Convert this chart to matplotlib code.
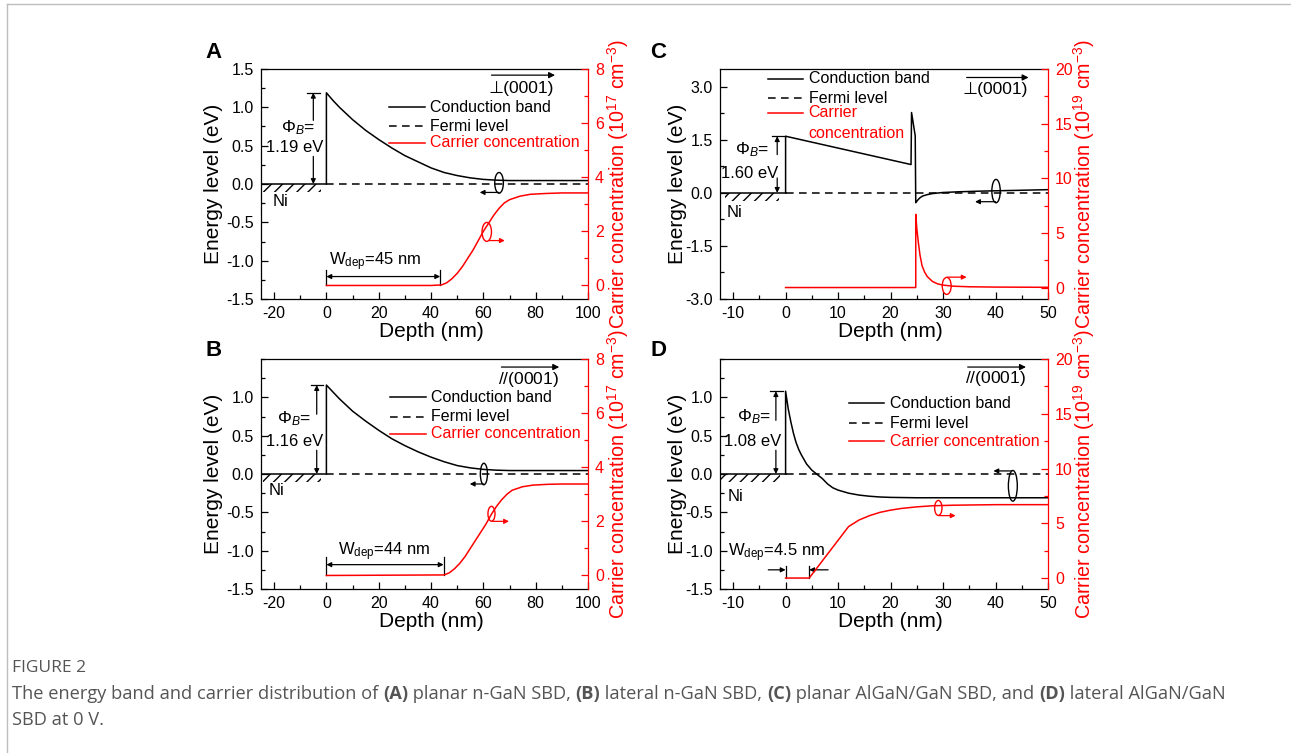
import matplotlib
matplotlib.use('Agg')
import matplotlib.pyplot as plt
from matplotlib.patches import Ellipse, Rectangle
from matplotlib.ticker import MultipleLocator, FixedLocator
from matplotlib.lines import Line2D

plt.rcParams['font.family'] = ['Liberation Sans', 'DejaVu Sans']
plt.rcParams['mathtext.fontset'] = 'custom'
plt.rcParams['mathtext.rm'] = 'Liberation Sans'
plt.rcParams['mathtext.it'] = 'Liberation Sans:italic'
plt.rcParams['mathtext.bf'] = 'Liberation Sans:bold'
plt.rcParams['axes.linewidth'] = 0.9
plt.rcParams['axes.unicode_minus'] = False

# ---------------- data ----------------
# Panel A: planar n-GaN SBD
A_cb_x = [0, 0, 2.5, 5, 7.5, 10, 15, 20, 25, 30, 35, 40, 45, 50, 55, 60, 65, 70, 80, 90, 100]
A_cb_y = [0, 1.19, 1.09, 1.00, 0.92, 0.84, 0.70, 0.58, 0.47, 0.37, 0.29, 0.21, 0.15, 0.11, 0.08, 0.06, 0.05, 0.045, 0.045, 0.045, 0.045]
A_cc_x = [0, 40, 44, 46, 48, 50, 52, 54, 56, 58, 60, 62, 64, 66, 68, 70, 74, 78, 84, 90, 100]
A_cc_y = [0, 0, 0.02, 0.1, 0.25, 0.45, 0.7, 1.0, 1.3, 1.65, 2.0, 2.3, 2.6, 2.85, 3.05, 3.17, 3.3, 3.37, 3.4, 3.42, 3.42]
# Panel B: lateral n-GaN SBD
B_cb_x = [0, 0, 2.5, 5, 7.5, 10, 15, 20, 25, 30, 35, 40, 45, 50, 55, 60, 65, 70, 80, 100]
B_cb_y = [0, 1.16, 1.07, 0.98, 0.90, 0.82, 0.69, 0.57, 0.46, 0.37, 0.29, 0.22, 0.16, 0.11, 0.08, 0.06, 0.05, 0.045, 0.045, 0.045]
B_cc_x = [0, 45, 47, 49, 51, 53, 55, 57, 59, 61, 63, 65, 67, 69, 71, 75, 79, 85, 90, 100]
B_cc_y = [0, 0.02, 0.1, 0.25, 0.45, 0.7, 1.0, 1.3, 1.6, 1.9, 2.25, 2.55, 2.8, 3.0, 3.15, 3.28, 3.34, 3.37, 3.38, 3.38]
# Panel C: planar AlGaN/GaN SBD
C_cb_x = [0, 0, 23.9, 24.0, 24.7, 24.8, 25.2, 25.6, 26.1, 27, 28, 30, 33, 37.5, 44, 50]
C_cb_y = [0, 1.60, 0.80, 2.27, 1.61, -0.28, -0.20, -0.14, -0.09, -0.05, -0.02, 0.01, 0.03, 0.05, 0.07, 0.09]
C_cc_x = [0, 24.8, 24.8, 25.0, 25.3, 25.6, 26.0, 26.5, 27, 28, 29, 30, 32, 35, 40, 50]
C_cc_y = [0, 0, 6.7, 5.4, 4.1, 3.0, 2.0, 1.4, 1.0, 0.55, 0.33, 0.22, 0.12, 0.07, 0.04, 0.02]
# Panel D: lateral AlGaN/GaN SBD
D_cb_x = [0, 0, 0.5, 1.0, 1.5, 2.0, 2.5, 3, 4, 5, 6, 7, 8, 9, 10, 12, 14, 16, 18, 20, 25, 30, 40, 50]
D_cb_y = [0, 1.08, 0.85, 0.68, 0.53, 0.41, 0.32, 0.25, 0.13, 0.05, -0.005, -0.06, -0.13, -0.18, -0.21, -0.25, -0.275, -0.29, -0.30, -0.305, -0.31, -0.31, -0.31, -0.31]
D_cc_x = [0, 4.5, 12, 14, 16, 18, 20, 22, 25, 28, 32, 40, 50]
D_cc_y = [0, 0, 4.7, 5.3, 5.7, 6.0, 6.2, 6.35, 6.5, 6.6, 6.65, 6.7, 6.7]

barrier = {'A': '1.19 eV', 'B': '1.16 eV', 'C': '1.60 eV', 'D': '1.08 eV'}
barrier_val = {'A': 1.19, 'B': 1.16, 'C': 1.60, 'D': 1.08}
direction = {'A': '\u22a5(0001)', 'B': r'$\mathit{//}$(0001)', 'C': '\u22a5(0001)', 'D': r'$\mathit{//}$(0001)'}
wdep_text = {'A': r'W$_{\rm dep}$=45 nm', 'B': r'W$_{\rm dep}$=44 nm', 'D': r'W$_{\rm dep}$=4.5 nm'}
cc_unit = {'A': r'Carrier concentration (10$^{17}$ cm$^{-3}$)', 'B': r'Carrier concentration (10$^{17}$ cm$^{-3}$)',
           'C': r'Carrier concentration (10$^{19}$ cm$^{-3}$)', 'D': r'Carrier concentration (10$^{19}$ cm$^{-3}$)'}
legend_labels = ['Conduction band', 'Fermi level', 'Carrier concentration']

# ---------------- figure ----------------
W, H = 1291, 753
fig = plt.figure(figsize=(W / 100, H / 100), dpi=100)


def add_axes_px(l, t, r, b):
    return fig.add_axes([l / W, 1 - b / H, (r - l) / W, (b - t) / H])


RED = '#ff0000'
FS_TICK = 11.5
FS_LAB = 15
FS_RLAB = 14.2
FS_ANN = 11.5
FS_LEG = 11.5
LW = 1.1


def base(rect, xlim, xmaj, xmin_, ylim, yticks, ymin_, rlim, rmaj, rmin_, key):
    ax = add_axes_px(*rect)
    ax2 = ax.twinx()
    ax.set_xlim(*xlim)
    ax.set_ylim(*ylim)
    ax2.set_ylim(*rlim)
    ax.xaxis.set_major_locator(MultipleLocator(xmaj))
    ax.xaxis.set_minor_locator(MultipleLocator(xmin_))
    ax.yaxis.set_major_locator(FixedLocator(yticks))
    ax.yaxis.set_minor_locator(MultipleLocator(ymin_))
    ax2.yaxis.set_major_locator(MultipleLocator(rmaj))
    ax2.yaxis.set_minor_locator(MultipleLocator(rmin_))
    ax.tick_params(which='both', direction='in', top=False, right=False, labelsize=FS_TICK, width=0.9)
    ax.tick_params(which='major', length=5, pad=5)
    ax.tick_params(which='minor', length=3)
    ax2.tick_params(which='both', direction='in', colors=RED, labelsize=FS_TICK, width=0.9)
    ax2.tick_params(which='major', length=5, pad=5)
    ax2.tick_params(which='minor', length=3)
    ax.spines['right'].set_visible(False)
    ax2.spines['right'].set_color(RED)
    ax2.spines['left'].set_visible(False)
    ax2.spines['top'].set_visible(False)
    ax2.spines['bottom'].set_visible(False)
    ax.set_xlabel('Depth (nm)', fontsize=FS_LAB, va='center')
    ax.set_ylabel('Energy level (eV)', fontsize=FS_LAB, va='center')
    ax2.set_ylabel(cc_unit[key], fontsize=FS_RLAB, color=RED, va='center', rotation=90)
    return ax, ax2


def arrow(ax, x0, y0, x1, y1, color='black', style='-|>', ms=8):
    ax.annotate('', xy=(x1, y1), xytext=(x0, y0),
                arrowprops=dict(arrowstyle=style, color=color, lw=0.9, shrinkA=0, shrinkB=0,
                                mutation_scale=ms))


def common(ax, ax2, key, cb_x, cb_y, cc_x, cc_y, xlim):
    ax.plot(cb_x, cb_y, color='black', lw=LW, zorder=3)
    ax.plot([0, xlim[1]], [0, 0], color='black', lw=LW, ls=(0, (5, 3.5)), zorder=2)
    ax.plot([xlim[0], 0], [0, 0], color='black', lw=LW, zorder=2)
    ax2.plot(cc_x, cc_y, color=RED, lw=LW, zorder=3)


def ni(ax, x0, x1, hh, tx, ty):
    ax.add_patch(Rectangle((x0, -hh), x1 - x0, hh, hatch='///', fill=False, lw=0, edgecolor='black'))
    ax.text(tx, ty, 'Ni', fontsize=FS_ANN + 0.5, ha='center', va='center')


def phib(ax, key, xa, c0, c1, upb, lowt, tx1, ty1, tx2, ty2):
    top = barrier_val[key]
    ax.plot([c0, c1], [top, top], color='black', lw=0.9)
    arrow(ax, xa, upb, xa, top, ms=7)
    arrow(ax, xa, lowt, xa, 0, ms=7)
    ax.text(tx1, ty1, r'$\mathit{\Phi}_{\mathit{B}}$=', fontsize=FS_ANN + 1, ha='center', va='center')
    ax.text(tx2, ty2, barrier[key], fontsize=FS_ANN + 0.5, ha='center', va='center')


def key_entries(ax, lx0, lx1, tx, ys, labels):
    styles = [dict(color='black', ls='-'), dict(color='black', ls=(0, (5, 3.5))), dict(color=RED, ls='-')]
    for st, y, lab in zip(styles, ys, labels):
        ax.plot([lx0, lx1], [y, y], lw=LW, **st)
        ax.text(tx, y, lab, fontsize=FS_LEG, ha='left', va='center', color=st['color'])


def direction_arrow(ax, key, x0, x1, y, tx, ty):
    arrow(ax, x0, y, x1, y, ms=9)
    ax.text(tx, ty, direction[key], fontsize=FS_ANN + 1, ha='center', va='center')


def indicator(ax, cx, cy, w, h, color, ax0, ay, ax1):
    ax.add_patch(Ellipse((cx, cy), w, h, fill=False, edgecolor=color, lw=1.0))
    arrow(ax, ax0, ay, ax1, ay, color=color, ms=7)


XLAB_Y = -0.142

# ---- Panel A ----
xl = (-25, 100)
ax, ax2 = base((261, 69, 588, 299), xl, 20, 10, (-1.5, 1.5), [-1.5, -1.0, -0.5, 0.0, 0.5, 1.0, 1.5], 0.25,
               (-0.5, 8), 2, 1, 'A')
common(ax, ax2, 'A', A_cb_x, A_cb_y, A_cc_x, A_cc_y, xl)
ni(ax, -24.1, -2, 0.105, -17.7, -0.23)
phib(ax, 'A', -5, -7.4, -2.4, 0.83, 0.36, -11.0, 0.74, -12.3, 0.47)
key_entries(ax, 24.1, 37.5, 39.7, [1.0, 0.75, 0.54], legend_labels)
direction_arrow(ax, 'A', 63.1, 87.4, 1.42, 74.6, 1.25)
indicator(ax, 66, 0.015, 3.3, 0.27, 'black', 66, -0.11, 58.6)
indicator(ax2, 61.3, 1.98, 3.6, 0.70, RED, 62, 1.66, 68.2)
ax2.plot([0, 0], [0, 0.58], color='black', lw=0.9)
ax2.plot([43.5, 43.5], [0, 0.58], color='black', lw=0.9)
arrow(ax2, 0, 0.33, 43.5, 0.33, style='<|-|>', ms=7)
ax2.text(0.9, 0.89, wdep_text['A'], fontsize=FS_ANN + 0.5, ha='left', va='center')
ax.xaxis.set_label_coords(0.52, XLAB_Y)
ax.yaxis.set_label_coords(-0.144, 0.5)
ax2.yaxis.set_label_coords(1.092, 0.5)

# ---- Panel B ----
ax, ax2 = base((261, 359, 588, 589), xl, 20, 10, (-1.5, 1.5), [-1.5, -1.0, -0.5, 0.0, 0.5, 1.0], 0.25,
               (-0.5, 8), 2, 1, 'B')
common(ax, ax2, 'B', B_cb_x, B_cb_y, B_cc_x, B_cc_y, xl)
ni(ax, -24.4, -2, 0.105, -19, -0.22)
phib(ax, 'B', -3.7, -5.9, -1.4, 0.78, 0.31, -12.3, 0.72, -12.0, 0.42)
key_entries(ax, 24.5, 37.9, 40.1, [1.0, 0.745, 0.526], legend_labels)
direction_arrow(ax, 'B', 66.9, 89, 1.395, 77.2, 1.23)
indicator(ax, 60.2, 0.0, 2.7, 0.28, 'black', 60, -0.13, 54.8)
indicator(ax2, 63.1, 2.28, 2.7, 0.55, RED, 63.5, 2.0, 69.8)
ax2.plot([0, 0], [0, 0.7], color='black', lw=0.9)
ax2.plot([44.8, 44.8], [0, 0.7], color='black', lw=0.9)
arrow(ax2, 0, 0.4, 44.8, 0.4, style='<|-|>', ms=7)
ax2.text(4.3, 0.89, wdep_text['B'], fontsize=FS_ANN + 0.5, ha='left', va='center')
ax.xaxis.set_label_coords(0.52, XLAB_Y)
ax.yaxis.set_label_coords(-0.144, 0.5)
ax2.yaxis.set_label_coords(1.092, 0.5)

# ---- Panel C ----
xl = (-12.5, 50)
ax, ax2 = base((720, 69, 1048, 299), xl, 10, 5, (-3, 3.5), [-3.0, -1.5, 0.0, 1.5, 3.0], 0.75,
               (-1.05, 20), 5, 2.5, 'C')
common(ax, ax2, 'C', C_cb_x, C_cb_y, C_cc_x, C_cc_y, xl)
ni(ax, -11.6, -1.2, 0.23, -9.7, -0.55)
phib(ax, 'C', -1.6, -2.5, -0.1, 1.08, 0.42, -6.5, 1.22, -6.8, 0.54)
key_entries(ax, -3.3, 3.4, 4.4, [3.225, 2.68, 2.26], legend_labels[:2] + ['Carrier'])
ax.text(4.4, 1.69, 'concentration', fontsize=FS_LEG, ha='left', va='center', color=RED)
direction_arrow(ax, 'C', 34.5, 46.3, 3.26, 39.9, 2.91)
indicator(ax, 40.1, 0.05, 1.6, 0.66, 'black', 40, -0.25, 36.1)
indicator(ax2, 30.7, 0.15, 1.7, 1.56, RED, 30.9, 0.95, 34.5)
ax.xaxis.set_label_coords(0.52, XLAB_Y)
ax.yaxis.set_label_coords(-0.129, 0.5)
ax2.yaxis.set_label_coords(1.11, 0.5)

# ---- Panel D ----
ax, ax2 = base((720, 359, 1048, 589), xl, 10, 5, (-1.5, 1.5), [-1.5, -1.0, -0.5, 0.0, 0.5, 1.0], 0.25,
               (-1.0, 20), 5, 2.5, 'D')
common(ax, ax2, 'D', D_cb_x, D_cb_y, D_cc_x, D_cc_y, xl)
ni(ax, -12.3, -1.1, 0.105, -9.55, -0.295)
phib(ax, 'D', -1.85, -2.9, -0.45, 0.70, 0.31, -6.05, 0.745, -6.2, 0.43)
key_entries(ax, 12.1, 18.8, 19.8, [0.92, 0.66, 0.425], legend_labels)
direction_arrow(ax, 'D', 34.7, 45.8, 1.395, 40, 1.24)
indicator(ax, 43.3, -0.154, 1.7, 0.4, 'black', 43.1, 0.04, 39.6)
indicator(ax2, 29.1, 6.4, 1.4, 1.37, RED, 29.3, 5.7, 32.4)
ax.plot([0, 0], [-1.2, -1.36], color='black', lw=0.9)
ax.plot([4.5, 4.5], [-1.2, -1.36], color='black', lw=0.9)
arrow(ax, -3.3, -1.25, 0, -1.25, ms=7)
arrow(ax, 8.1, -1.25, 4.5, -1.25, ms=7)
ax.text(-1.8, -1.02, wdep_text['D'], fontsize=FS_ANN + 0.5, ha='center', va='center')
ax.xaxis.set_label_coords(0.52, XLAB_Y)
ax.yaxis.set_label_coords(-0.129, 0.5)
ax2.yaxis.set_label_coords(1.11, 0.5)

# panel letters
for lab, (px, py) in zip(['A', 'B', 'C', 'D'], [(214, 53), (214, 350), (658.5, 53), (658.5, 350)]):
    fig.text(px / W, 1 - py / H, lab, fontsize=16, fontweight='bold', ha='center', va='center')

# page border
fig.add_artist(Line2D([7 / W, 1], [1 - 4 / H, 1 - 4 / H], color='#bdbdbd', lw=1.0, transform=fig.transFigure))
fig.add_artist(Line2D([7 / W, 7 / W], [0, 1 - 4 / H], color='#bdbdbd', lw=1.0, transform=fig.transFigure))

# caption
CAP_FONT = ['Open Sans', 'DejaVu Sans']
CAP_COL = '#555555'
fig.text(12 / W, 1 - 668 / H, 'FIGURE 2', fontsize=12.5, family=CAP_FONT, color=CAP_COL, ha='left', va='center')
line1 = [("The energy band and carrier distribution of ", 'normal'), ("(A)", 'bold'),
         (" planar n-GaN SBD, ", 'normal'), ("(B)", 'bold'), (" lateral n-GaN SBD, ", 'normal'),
         ("(C)", 'bold'), (" planar AlGaN/GaN SBD, and ", 'normal'), ("(D)", 'bold'),
         (" lateral AlGaN/GaN", 'normal')]
renderer = fig.canvas.get_renderer()


def piece_width(s, weight, fs):
    t1 = fig.text(0, 0, '|' + s + '|', fontsize=fs, family=CAP_FONT, fontweight=weight)
    t2 = fig.text(0, 0, '||', fontsize=fs, family=CAP_FONT, fontweight=weight)
    w = t1.get_window_extent(renderer).width - t2.get_window_extent(renderer).width
    t1.remove()
    t2.remove()
    return w


fs0 = 12
total = sum(piece_width(s, wgt, fs0) for s, wgt in line1)
fs = fs0 * 1206 / total
x = 12
for s, wgt in line1:
    fig.text(x / W, 1 - 694 / H, s, fontsize=fs, family=CAP_FONT, fontweight=wgt, color=CAP_COL,
             ha='left', va='center')
    x += piece_width(s, wgt, fs)
fig.text(12 / W, 1 - 720 / H, 'SBD at 0 V.', fontsize=fs, family=CAP_FONT, color=CAP_COL, ha='left', va='center')

fig.savefig('out.png', dpi=100)
